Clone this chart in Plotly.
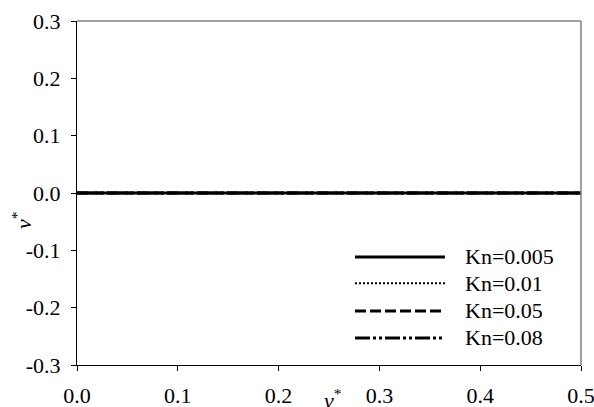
import plotly.graph_objects as go

# Dimensionless velocity profiles for several Knudsen numbers
x_star = [0.0, 0.1, 0.2, 0.3, 0.4, 0.5]
v_kn_0005 = [0.0, 0.0, 0.0, 0.0, 0.0, 0.0]
v_kn_001 = [0.0, 0.0, 0.0, 0.0, 0.0, 0.0]
v_kn_005 = [0.0, 0.0, 0.0, 0.0, 0.0, 0.0]
v_kn_008 = [0.0, 0.0, 0.0, 0.0, 0.0, 0.0]

series_names = ["Kn=0.005", "Kn=0.01", "Kn=0.05", "Kn=0.08"]
x_ticks = [0.0, 0.1, 0.2, 0.3, 0.4, 0.5]
y_ticks = [-0.3, -0.2, -0.1, 0.0, 0.1, 0.2, 0.3]

FONT = "Liberation Serif"
FS = 22
dashes = ["solid", "2px,2px", "11px,4px", "15px,3px,3px,3px,3px,3px"]
widths = [3, 2, 3, 3]
series = [v_kn_0005, v_kn_001, v_kn_005, v_kn_008]

fig = go.Figure()
for name, ys, d, w in zip(series_names, series, dashes, widths):
    fig.add_trace(go.Scatter(x=x_star, y=ys, mode="lines", name=name,
                             line=dict(color="black", width=w, dash=d),
                             showlegend=False))

# Hand-drawn legend block in the lower right corner
leg_y = [0.314, 0.238, 0.157, 0.0785]
shapes = []
annotations = []
for name, d, w, ly in zip(series_names, dashes, widths, leg_y):
    shapes.append(dict(type="line", xref="paper", yref="paper",
                       x0=0.5516, x1=0.730, y0=ly, y1=ly,
                       line=dict(color="black", width=w, dash=d)))
    annotations.append(dict(text=name, xref="paper", yref="paper",
                            x=0.766, y=ly, xanchor="left", yanchor="middle",
                            showarrow=False,
                            font=dict(family=FONT, size=FS, color="black")))

# Grey top and right frame edges
shapes.append(dict(type="line", xref="paper", yref="paper", x0=0, x1=1, y0=1, y1=1,
                   line=dict(color="#7f7f7f", width=1.5)))
shapes.append(dict(type="line", xref="paper", yref="paper", x0=1, x1=1, y0=0, y1=1,
                   line=dict(color="#7f7f7f", width=1.5)))

# Axis titles
annotations.append(dict(text="<i>v</i><sup>*</sup>", xref="paper", yref="paper",
                        x=-0.11, y=0.42, textangle=-90, showarrow=False,
                        xanchor="center", yanchor="middle",
                        font=dict(family=FONT, size=FS, color="black")))
annotations.append(dict(text="<i>v</i><sup>*</sup>", xref="paper", yref="paper",
                        x=0.506, y=-0.122, yshift=-8, showarrow=False,
                        xanchor="center", yanchor="bottom",
                        font=dict(family=FONT, size=FS, color="black")))

axis_common = dict(showgrid=False, zeroline=False, showline=True, linecolor="black",
                   linewidth=1, ticks="outside", ticklen=5, tickcolor="black",
                   automargin=False, ticklabeloverflow="allow",
                   tickfont=dict(family=FONT, size=FS, color="black"))

fig.update_layout(
    template="none",
    width=594, height=407,
    margin=dict(l=77, r=13, t=21, b=42),
    paper_bgcolor="white", plot_bgcolor="white",
    font=dict(family=FONT, size=FS, color="black"),
    shapes=shapes, annotations=annotations,
    xaxis=dict(range=[0, 0.5], tickvals=x_ticks, ticktext=[f"{t:.1f}" for t in x_ticks],
               ticklabelstandoff=6, **axis_common),
    yaxis=dict(range=[-0.3, 0.3], tickvals=y_ticks, ticktext=[f"{t:.1f}" for t in y_ticks],
               ticklabelstandoff=6, **axis_common),
)

fig.write_html("out.html")
